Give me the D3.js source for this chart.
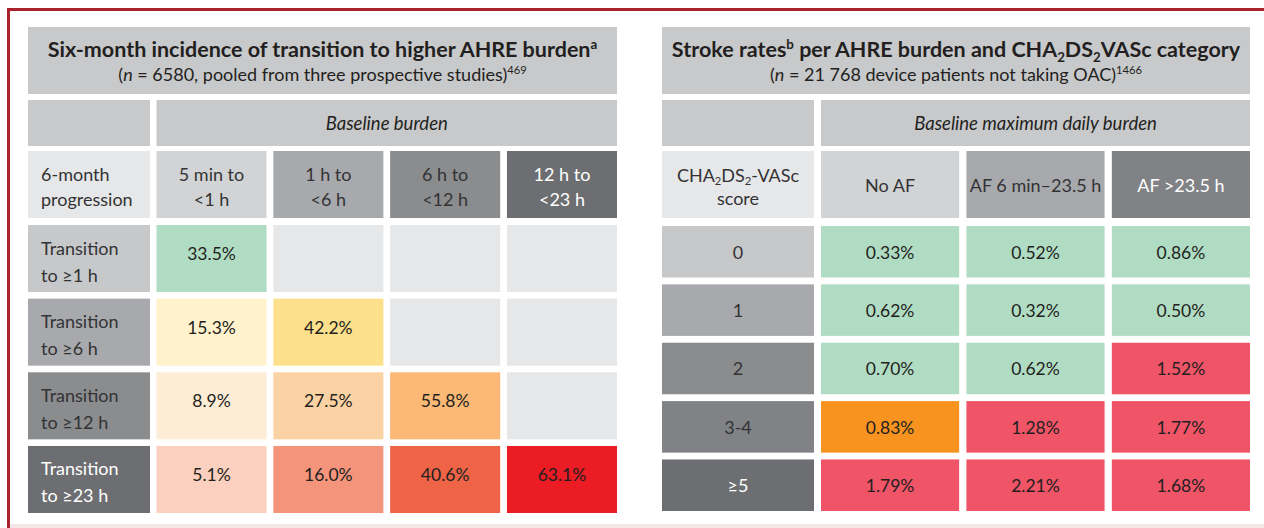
<!DOCTYPE html>
<html>
<head>
<meta charset="utf-8">
<script src="https://cdn.jsdelivr.net/npm/d3@7"></script>
<style>
body { margin: 0; background: #fff; }
text { font-family: Lato, "Open Sans", sans-serif; }
</style>
</head>
<body>
<div id="chart"></div>
<script>
// ---- left table: six-month progression ----
var leftTitle1 = [{t: "Six-month incidence of transition to higher AHRE burden"}, {t: "a", sup: true}];
var leftTitle2 = [{t: "("}, {t: "n", it: true}, {t: " = 6580, pooled from three prospective studies)"}, {t: "469", sup: true}];
var leftGroup = "Baseline burden";
var leftCorner = ["6-month", "progression"];
var leftCols = [["5 min to", "<1 h"], ["1 h to", "<6 h"], ["6 h to", "<12 h"], ["12 h to", "<23 h"]];
var leftRows = [["Transition", "to \u22651 h"], ["Transition", "to \u22656 h"], ["Transition", "to \u226512 h"], ["Transition", "to \u226523 h"]];
var leftValues = [
    [33.5, null, null, null],
    [15.3, 42.2, null, null],
    [8.9, 27.5, 55.8, null],
    [5.1, 16.0, 40.6, 63.1]
];

// ---- right table: stroke rates ----
var rightTitle1 = [{t: "Stroke rates"}, {t: "b", sup: true}, {t: " per AHRE burden and CHA"}, {t: "2", sub: true},
                   {t: "DS"}, {t: "2", sub: true}, {t: "VASc category"}];
var rightTitle2 = [{t: "("}, {t: "n", it: true}, {t: " = 21 768 device patients not taking OAC)"}, {t: "1466", sup: true}];
var rightGroup = "Baseline maximum daily burden";
var rightCorner1 = [{t: "CHA"}, {t: "2", sub: true}, {t: "DS"}, {t: "2", sub: true}, {t: "-VASc"}];
var rightCorner2 = "score";
var rightCols = ["No AF", "AF 6 min\u201323.5 h", "AF >23.5 h"];
var rightRows = ["0", "1", "2", "3-4", "\u22655"];
var rightValues = [
    [0.33, 0.52, 0.86],
    [0.62, 0.32, 0.50],
    [0.70, 0.62, 1.52],
    [0.83, 1.28, 1.77],
    [1.79, 2.21, 1.68]
];
var rightRisk = [
    ["low", "low", "low"],
    ["low", "low", "low"],
    ["low", "low", "high"],
    ["mid", "high", "high"],
    ["high", "high", "high"]
];

var w = 1264, h = 528;
var ink = "#231f20", soft = "#333335";
var fsTitle = 21.5, fsSub = 18, fsGroup = 18.5, fsHead = 18, fsVal = 17.5;

var svg = d3.select("#chart").append("svg")
    .attr("width", w)
    .attr("height", h);

// outer frame (red left/top, faint bottom)
svg.append("line").attr("x1", 8.5).attr("x2", 8.5).attr("y1", 8).attr("y2", h)
    .attr("stroke", "#a8232b").attr("stroke-width", 3);
svg.append("line").attr("x1", 7).attr("x2", w).attr("y1", 9.5).attr("y2", 9.5)
    .attr("stroke", "#a8232b").attr("stroke-width", 3);
svg.append("line").attr("x1", 10).attr("x2", w).attr("y1", 526).attr("y2", 526)
    .attr("stroke", "#f7e6e7").attr("stroke-width", 4);

// writes a list of text parts with sub/superscripts into a <text>
function rich(textSel, parts, size) {
    var shift = 0;
    parts.forEach(function(p) {
        var target = p.sup ? -0.38 * size : (p.sub ? 0.22 * size : 0);
        textSel.append("tspan")
            .attr("dy", target - shift)
            .style("font-size", (p.sup || p.sub) ? (size * 0.62) + "px" : null)
            .style("font-style", p.it ? "italic" : null)
            .text(p.t);
        shift = target;
    });
}

function box(g, x, y, bw, bh, fill) {
    g.append("rect").attr("x", x).attr("y", y).attr("width", bw).attr("height", bh).attr("fill", fill);
}

var titleY = [27, 94], groupY = [100, 146], headY = [151, 218];
var headMid = (headY[0] + headY[1]) / 2;

// ===================== LEFT =====================
var L = svg.append("g");
var lx0 = 28, lx1 = 617, lHeadW = 122;

var lx = d3.scaleBand().domain(d3.range(leftCols.length)).range([156.5, lx1]).paddingInner(0.058);
var ly = d3.scaleBand().domain(d3.range(leftRows.length)).range([225, 513]).paddingInner(0.09);

var lColFill = d3.scaleOrdinal().domain(d3.range(4)).range(["#d1d3d4", "#a7a9ac", "#8a8c8e", "#6d6e71"]);
var lRowFill = d3.scaleOrdinal().domain(d3.range(4)).range(["#c7c8ca", "#a7a9ac", "#8a8c8e", "#6d6e71"]);
var lPalettes = [
    ["#b1dcc4"],
    ["#fff2cd", "#fde08b"],
    ["#fdecd6", "#fbd2a3", "#fbb975"],
    ["#fbd0bf", "#f4957b", "#ef6447", "#ec1c24"]
];

box(L, lx0, titleY[0], lx1 - lx0, titleY[1] - titleY[0], "#c8c9cb");
rich(L.append("text").attr("x", (lx0 + lx1) / 2).attr("y", 57).attr("text-anchor", "middle")
    .attr("fill", ink).style("font-size", fsTitle + "px").style("font-weight", "bold"), leftTitle1, fsTitle);
rich(L.append("text").attr("x", (lx0 + lx1) / 2).attr("y", 81).attr("text-anchor", "middle")
    .attr("fill", ink).style("font-size", fsSub + "px"), leftTitle2, fsSub);

box(L, lx0, groupY[0], lHeadW, groupY[1] - groupY[0], "#c8c9cb");
box(L, lx(0), groupY[0], lx1 - lx(0), groupY[1] - groupY[0], "#c8c9cb");
L.append("text").attr("x", (lx(0) + lx1) / 2).attr("y", (groupY[0] + groupY[1]) / 2 + 6.5)
    .attr("text-anchor", "middle").attr("fill", ink)
    .style("font-size", fsGroup + "px").style("font-style", "italic").text(leftGroup);

box(L, lx0, headY[0], lHeadW, headY[1] - headY[0], "#e6e7e8");
L.append("text").attr("x", lx0 + 13).attr("y", headMid - 4).attr("fill", soft)
    .style("font-size", fsHead + "px").text(leftCorner[0]);
L.append("text").attr("x", lx0 + 13).attr("y", headMid + 21).attr("fill", soft)
    .style("font-size", fsHead + "px").text(leftCorner[1]);

var lHead = L.selectAll("g.lhead").data(leftCols).enter().append("g").attr("class", "lhead");
lHead.append("rect")
    .attr("x", function(d, i) { return lx(i); })
    .attr("y", headY[0])
    .attr("width", lx.bandwidth())
    .attr("height", headY[1] - headY[0])
    .attr("fill", function(d, i) { return lColFill(i); });
[0, 1].forEach(function(k) {
    lHead.append("text")
        .attr("x", function(d, i) { return lx(i) + lx.bandwidth() / 2; })
        .attr("y", headMid + (k ? 21 : -4))
        .attr("text-anchor", "middle")
        .attr("fill", function(d, i) { return i === 3 ? "#fff" : soft; })
        .style("font-size", fsHead + "px")
        .text(function(d) { return d[k]; });
});

var lRow = L.selectAll("g.lrow").data(leftRows).enter().append("g").attr("class", "lrow")
    .attr("transform", function(d, i) { return "translate(0," + ly(i) + ")"; });
lRow.append("rect").attr("x", lx0).attr("width", lHeadW).attr("height", ly.bandwidth())
    .attr("fill", function(d, i) { return lRowFill(i); });
[0, 1].forEach(function(k) {
    lRow.append("text")
        .attr("x", lx0 + 13)
        .attr("y", ly.bandwidth() / 2 + (k ? 23 : -4))
        .attr("fill", function(d, i) { return i === 3 ? "#fff" : soft; })
        .style("font-size", fsHead + "px")
        .text(function(d) { return d[k]; });
});

var fmtL = d3.format(".1f");
lRow.each(function(rowLabel, r) {
    var cells = d3.select(this).selectAll("g.cell").data(leftValues[r]).enter().append("g");
    cells.append("rect")
        .attr("x", function(d, c) { return lx(c); })
        .attr("width", lx.bandwidth())
        .attr("height", ly.bandwidth())
        .attr("fill", function(d, c) { return d == null ? "#e6e7e8" : lPalettes[r][c]; });
    cells.filter(function(d) { return d != null; }).append("text")
        .attr("x", function(d, c) { return lx(c) + lx.bandwidth() / 2; })
        .attr("y", ly.bandwidth() / 2 + 1.5)
        .attr("text-anchor", "middle")
        .attr("fill", ink)
        .style("font-size", fsVal + "px")
        .text(function(d) { return fmtL(d) + "%"; });
});

// ===================== RIGHT =====================
var R = svg.append("g");
var rx0 = 662, rx1 = 1250, rHeadW = 152;

var rx = d3.scaleBand().domain(d3.range(rightCols.length)).range([821, rx1]).paddingInner(0.05);
var ry = d3.scaleBand().domain(d3.range(rightRows.length)).range([226, 511]).paddingInner(0.117);

var rColFill = d3.scaleOrdinal().domain(d3.range(3)).range(["#d1d3d4", "#a7a9ac", "#808285"]);
var rRowFill = d3.scaleOrdinal().domain(d3.range(5)).range(["#c7c8ca", "#a7a9ac", "#8a8c8e", "#808285", "#6d6e71"]);
var riskFill = d3.scaleOrdinal().domain(["low", "mid", "high"]).range(["#b1dcc4", "#f7931e", "#ef5467"]);

box(R, rx0, titleY[0], rx1 - rx0, titleY[1] - titleY[0], "#c8c9cb");
rich(R.append("text").attr("x", (rx0 + rx1) / 2).attr("y", 57).attr("text-anchor", "middle")
    .attr("fill", ink).style("font-size", fsTitle + "px").style("font-weight", "bold"), rightTitle1, fsTitle);
rich(R.append("text").attr("x", (rx0 + rx1) / 2).attr("y", 81).attr("text-anchor", "middle")
    .attr("fill", ink).style("font-size", fsSub + "px"), rightTitle2, fsSub);

box(R, rx0, groupY[0], rHeadW, groupY[1] - groupY[0], "#c8c9cb");
box(R, rx(0), groupY[0], rx1 - rx(0), groupY[1] - groupY[0], "#c8c9cb");
R.append("text").attr("x", (rx(0) + rx1) / 2).attr("y", (groupY[0] + groupY[1]) / 2 + 6.5)
    .attr("text-anchor", "middle").attr("fill", ink)
    .style("font-size", fsGroup + "px").style("font-style", "italic").text(rightGroup);

box(R, rx0, headY[0], rHeadW, headY[1] - headY[0], "#e6e7e8");
rich(R.append("text").attr("x", rx0 + rHeadW / 2).attr("y", headMid - 3).attr("text-anchor", "middle")
    .attr("fill", soft).style("font-size", fsHead + "px"), rightCorner1, fsHead);
R.append("text").attr("x", rx0 + rHeadW / 2).attr("y", headMid + 20).attr("text-anchor", "middle")
    .attr("fill", soft).style("font-size", fsHead + "px").text(rightCorner2);

var rHead = R.selectAll("g.rhead").data(rightCols).enter().append("g").attr("class", "rhead");
rHead.append("rect")
    .attr("x", function(d, i) { return rx(i); })
    .attr("y", headY[0])
    .attr("width", rx.bandwidth())
    .attr("height", headY[1] - headY[0])
    .attr("fill", function(d, i) { return rColFill(i); });
rHead.append("text")
    .attr("x", function(d, i) { return rx(i) + rx.bandwidth() / 2; })
    .attr("y", headMid + 7)
    .attr("text-anchor", "middle")
    .attr("fill", function(d, i) { return i === 2 ? "#fff" : soft; })
    .style("font-size", fsHead + "px")
    .text(function(d) { return d; });

var rRow = R.selectAll("g.rrow").data(rightRows).enter().append("g").attr("class", "rrow")
    .attr("transform", function(d, i) { return "translate(0," + ry(i) + ")"; });
rRow.append("rect").attr("x", rx0).attr("width", rHeadW).attr("height", ry.bandwidth())
    .attr("fill", function(d, i) { return rRowFill(i); });
rRow.append("text")
    .attr("x", rx0 + rHeadW / 2)
    .attr("y", ry.bandwidth() / 2 + 7)
    .attr("text-anchor", "middle")
    .attr("fill", function(d, i) { return i === 4 ? "#fff" : soft; })
    .style("font-size", fsHead + "px")
    .text(function(d) { return d; });

var fmtR = d3.format(".2f");
rRow.each(function(rowLabel, r) {
    var cells = d3.select(this).selectAll("g.cell").data(rightValues[r]).enter().append("g");
    cells.append("rect")
        .attr("x", function(d, c) { return rx(c); })
        .attr("width", rx.bandwidth())
        .attr("height", ry.bandwidth())
        .attr("fill", function(d, c) { return riskFill(rightRisk[r][c]); });
    cells.append("text")
        .attr("x", function(d, c) { return rx(c) + rx.bandwidth() / 2; })
        .attr("y", ry.bandwidth() / 2 + 7)
        .attr("text-anchor", "middle")
        .attr("fill", ink)
        .style("font-size", fsVal + "px")
        .text(function(d) { return fmtR(d) + "%"; });
});
</script>
</body>
</html>
